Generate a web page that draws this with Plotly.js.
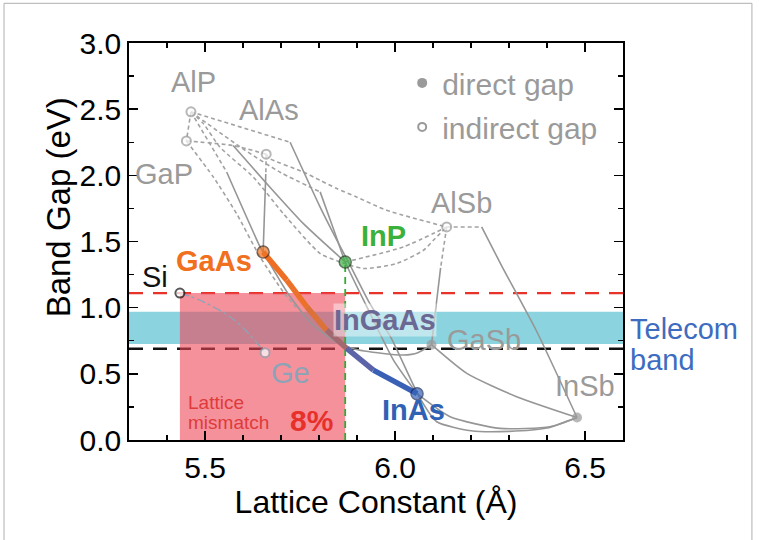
<!DOCTYPE html>
<html><head><meta charset="utf-8">
<script src="https://cdn.plot.ly/plotly-3.0.1.min.js"></script>
<style>html,body{margin:0;padding:0;background:#fff}</style>
</head><body><div id="chart" style="width:759px;height:540px"></div>
<script>
// ---------- data ----------
const compounds = ['AlP','GaP','AlAs','AlSb','GaAs','InP','Si','Ge','GaSb','InAs','InSb'];
const latticeA  = [5.463, 5.451, 5.661, 6.136, 5.653, 5.869, 5.434, 5.658, 6.096, 6.058, 6.479];
const gapEV     = [2.48, 2.26, 2.16, 1.61, 1.42, 1.345, 1.11, 0.66, 0.72, 0.35, 0.17];
const gapType   = ['indirect','indirect','indirect','indirect','direct','direct','indirect','indirect','direct','direct','direct'];

// reference levels
const siGapLine = 1.11;
const blackLine = 0.69;
const telecomBand = [0.725, 0.97];

// indirect-gap (dashed) alloy branches
const dAlPGaP_x = [5.463, 5.451],            dAlPGaP_y = [2.48, 2.26];
const dAlPa_x = [5.463, 5.724],              dAlPa_y = [2.48, 2.25];
const dAlPb_x = [5.463, 5.60, 5.70, 5.803],  dAlPb_y = [2.48, 2.20, 2.02, 1.875];
const dAlPc_x = [5.463, 5.557],              dAlPc_y = [2.48, 2.025];
const dAlPAlSb_x = [5.463, 5.496, 5.539, 5.627, 5.706, 5.803, 5.855, 5.917, 6.004, 6.075, 6.101, 6.136];
const dAlPAlSb_y = [2.48, 2.39, 2.214, 1.987, 1.711, 1.409, 1.346, 1.296, 1.333, 1.434, 1.509, 1.61];
const dGaPAlAs_x = [5.451, 5.574, 5.661],    dGaPAlAs_y = [2.26, 2.225, 2.16];
const dGaPGaAs_x = [5.451, 5.522, 5.583, 5.645, 5.706, 5.74];
const dGaPGaAs_y = [2.26, 1.987, 1.711, 1.383, 1.119, 1.0];
const dAlAsAlSb_x = [5.661, 5.671, 5.759, 5.803, 5.847, 5.899, 5.978, 6.136];
const dAlAsAlSb_y = [2.16, 2.126, 2.025, 1.962, 1.90, 1.836, 1.736, 1.61];
const dAlAsGaAs_x = [5.661, 5.660],          dAlAsGaAs_y = [2.16, 2.01];
const dInPAlSb_x = [5.869, 6.022, 6.136],    dInPAlSb_y = [1.345, 1.459, 1.61];
const dAlSbInSb_x = [6.136, 6.228],          dAlSbInSb_y = [1.61, 1.61];
const dAlSbGaSb_x = [6.136, 6.12],           dAlSbGaSb_y = [1.61, 1.30];

// direct-gap (solid) alloy branches
const sA_x = [5.724, 5.803, 5.847, 5.882, 5.934, 5.99, 6.066, 6.11, 6.2, 6.3, 6.4, 6.479];
const sA_y = [2.25, 1.76, 1.51, 1.32, 1.03, 0.77, 0.315, 0.138, 0.07, 0.065, 0.09, 0.17];
const sB_x = [5.803, 5.84, 5.869, 5.926, 5.996, 6.058];
const sB_y = [1.875, 1.58, 1.345, 1.006, 0.604, 0.35];
const sGaPInP_x = [5.574, 5.671, 5.759, 5.869], sGaPInP_y = [2.225, 1.91, 1.635, 1.345];
const sC_x = [5.557, 5.645, 5.653],          sC_y = [2.025, 1.459, 1.42];
const sAlAsGaAs_x = [5.660, 5.653],          sAlAsGaAs_y = [2.01, 1.42];
const sGaAsGaSb_x = [5.653, 5.72, 5.78, 5.838, 5.89, 5.969, 6.022, 6.06, 6.096];
const sGaAsGaSb_y = [1.42, 1.10, 0.88, 0.755, 0.69, 0.654, 0.642, 0.66, 0.72];
const sGaSbInSb_x = [6.096, 6.189, 6.32, 6.479], sGaSbInSb_y = [0.72, 0.503, 0.327, 0.17];
const sInAsInSb_x = [6.058, 6.145, 6.276, 6.408, 6.479], sInAsInSb_y = [0.35, 0.176, 0.088, 0.10, 0.17];
const sAlSbInSb_x = [6.228, 6.28, 6.373, 6.479], sAlSbInSb_y = [1.61, 1.32, 0.82, 0.17];
const sAlSbGaSb_x = [6.12, 6.11, 6.096],     sAlSbGaSb_y = [1.30, 1.06, 0.72];

// Si-Ge
const siGe_x = [5.434, 5.496, 5.583, 5.658], siGe_y = [1.11, 1.044, 0.893, 0.66];

// InGaAs (GaAs -> InAs)
const inGaAs_x = [5.653, 5.715, 5.768, 5.82, 5.873, 5.943, 6.058];
const inGaAs_y = [1.42, 1.208, 1.006, 0.83, 0.692, 0.528, 0.35];

// ---------- styles ----------
const FONT = 'Liberation Sans, Arial, sans-serif';
const gray = '#9a9a9a';
const traces = [];

function branch(x, y, dashed) {
  traces.push({x: x, y: y, mode: 'lines', showlegend: false, hoverinfo: 'skip',
    line: {color: dashed ? '#a2a2a2' : '#969696', width: 1.6, dash: dashed ? '4px,3px' : 'solid',
           shape: 'spline', smoothing: 0.6}});
}
[[dAlPGaP_x,dAlPGaP_y],[dAlPa_x,dAlPa_y],[dAlPb_x,dAlPb_y],[dAlPc_x,dAlPc_y],[dAlPAlSb_x,dAlPAlSb_y],
 [dGaPAlAs_x,dGaPAlAs_y],[dGaPGaAs_x,dGaPGaAs_y],[dAlAsAlSb_x,dAlAsAlSb_y],[dAlAsGaAs_x,dAlAsGaAs_y],
 [dInPAlSb_x,dInPAlSb_y],[dAlSbInSb_x,dAlSbInSb_y],[dAlSbGaSb_x,dAlSbGaSb_y]].forEach(p => branch(p[0], p[1], true));
[[sA_x,sA_y],[sB_x,sB_y],[sGaPInP_x,sGaPInP_y],[sC_x,sC_y],[sAlAsGaAs_x,sAlAsGaAs_y],[sGaAsGaSb_x,sGaAsGaSb_y],
 [sGaSbInSb_x,sGaSbInSb_y],[sInAsInSb_x,sInAsInSb_y],[sAlSbInSb_x,sAlSbInSb_y],[sAlSbGaSb_x,sAlSbGaSb_y]].forEach(p => branch(p[0], p[1], false));

traces.push({x: siGe_x, y: siGe_y, mode: 'lines', showlegend: false, hoverinfo: 'skip',
  line: {color: '#8ea3b5', width: 1.4, dash: 'dashdot', shape: 'spline'}});

// thick InGaAs line with colour gradient (one segment per pair of points)
const segColors = ['#ee6f24', '#ec7129', '#dc7238', '#a26a70', '#5d63a8', '#3a60b6'];
for (let i = 0; i < inGaAs_x.length - 1; i++) {
  traces.push({x: inGaAs_x.slice(i, i + 2), y: inGaAs_y.slice(i, i + 2), mode: 'lines', showlegend: false,
    hoverinfo: 'skip', line: {color: segColors[i], width: 5.5}});
}

// compound markers
const markerStyle = {
  AlP: {fill: '#fff', line: gray, size: 9, lw: 2}, GaP: {fill: '#fff', line: gray, size: 9, lw: 2},
  AlAs: {fill: '#fff', line: gray, size: 9, lw: 2}, AlSb: {fill: '#fff', line: gray, size: 9, lw: 2},
  GaAs: {fill: '#ef7424', line: '#4a2a18', size: 12, lw: 1.5}, InP: {fill: '#3cb043', line: '#1d3d1d', size: 12, lw: 1.5},
  Si: {fill: '#fff', line: '#111', size: 9, lw: 2}, Ge: {fill: '#fff', line: '#8ea3b5', size: 9, lw: 2},
  GaSb: {fill: '#9a9a9a', line: '#9a9a9a', size: 10, lw: 0}, InAs: {fill: '#3563b8', line: '#1a2a60', size: 12, lw: 1.5},
  InSb: {fill: '#9a9a9a', line: '#9a9a9a', size: 10, lw: 0}
};
traces.push({x: latticeA, y: gapEV, text: compounds, mode: 'markers', showlegend: false, hoverinfo: 'text',
  marker: {symbol: 'circle', size: compounds.map(c => markerStyle[c].size),
    color: compounds.map(c => markerStyle[c].fill),
    line: {color: compounds.map(c => markerStyle[c].line), width: compounds.map(c => markerStyle[c].lw)}}});

// legend entries
traces.push({x: [null], y: [null], mode: 'markers', name: 'direct gap', legendgroup: 'a',
  marker: {color: gray, size: 10}});
traces.push({x: [null], y: [null], mode: 'markers', name: 'indirect gap', legendgroup: 'b',
  marker: {color: '#fff', size: 8, line: {color: gray, width: 2}}});

// labels
const labelStyle = {
  AlP: {dx: 3, dy: 30, color: gray}, GaP: {dx: -22, dy: -33, color: gray},
  AlAs: {dx: 3, dy: 44, color: gray}, AlSb: {dx: 15, dy: 24, color: gray},
  GaAs: {dx: -49, dy: -9, color: '#f07020', bold: true}, InP: {dx: 38, dy: 26, color: '#3bb03b', bold: true},
  Si: {dx: -25, dy: 16, color: '#111'}, Ge: {dx: 25, dy: -20, color: '#8ea3b5'},
  GaSb: {dx: 53, dy: 5, color: gray}, InAs: {dx: -4, dy: -16, color: '#2f62b5', bold: true},
  InSb: {dx: 8, dy: 32, color: gray}
};
const annotations = compounds.map((c, i) => ({
  x: latticeA[i], y: gapEV[i], xref: 'x', yref: 'y', showarrow: false,
  xshift: labelStyle[c].dx, yshift: labelStyle[c].dy,
  text: labelStyle[c].bold ? '<b>' + c + '</b>' : c,
  font: {family: FONT, size: 29, color: labelStyle[c].color}
}));
const iInP = compounds.indexOf('InP'), iSi = compounds.indexOf('Si');
annotations.push({x: latticeA[iInP], y: blackLine, xref: 'x', yref: 'y', showarrow: false, xshift: 40, yshift: 29,
  text: '<b>InGaAs</b>', font: {family: FONT, size: 29, color: '#6b6894'}, bgcolor: 'rgba(255,255,255,0.45)', borderpad: 0});
annotations.push({x: latticeA[iSi], y: 0.28, xref: 'x', yref: 'y', xanchor: 'left', showarrow: false, xshift: 6,
  text: 'Lattice', font: {family: FONT, size: 19, color: '#e03a3a'}});
annotations.push({x: latticeA[iSi], y: 0.135, xref: 'x', yref: 'y', xanchor: 'left', showarrow: false, xshift: 6,
  text: 'mismatch', font: {family: FONT, size: 19, color: '#e03a3a'}});
annotations.push({x: latticeA[iInP], y: 0.15, xref: 'x', yref: 'y', xanchor: 'right', showarrow: false, xshift: -10,
  text: '<b>8%</b>', font: {family: FONT, size: 30, color: '#e8302a'}});
annotations.push({x: 1.01, xref: 'paper', y: (telecomBand[0] + telecomBand[1]) / 2, yref: 'y', xanchor: 'left',
  showarrow: false, yshift: -1, text: 'Telecom', font: {family: FONT, size: 29, color: '#3d6cc0'}});
annotations.push({x: 1.01, xref: 'paper', y: (telecomBand[0] + telecomBand[1]) / 2, yref: 'y', xanchor: 'left',
  showarrow: false, yshift: -32, text: 'band', font: {family: FONT, size: 29, color: '#3d6cc0'}});
annotations.push({x: -0.184, xref: 'paper', y: 0.585, yref: 'paper', textangle: -90, showarrow: false,
  text: 'Band Gap (eV)', font: {family: FONT, size: 33, color: '#000'}});

const shapes = [
  {type: 'rect', layer: 'below', xref: 'paper', x0: 0, x1: 1, yref: 'y', y0: telecomBand[0], y1: telecomBand[1],
   fillcolor: 'rgba(110,200,215,0.8)', line: {width: 0}},
  {type: 'rect', layer: 'below', xref: 'x', x0: latticeA[iSi], x1: latticeA[iInP], yref: 'y', y0: 0, y1: siGapLine,
   fillcolor: 'rgba(236,72,88,0.6)', line: {width: 0}},
  {type: 'line', layer: 'below', xref: 'paper', x0: 0, x1: 1, yref: 'y', y0: siGapLine, y1: siGapLine,
   line: {color: '#e8332a', width: 2.2, dash: '14px,10px'}},
  {type: 'line', layer: 'below', xref: 'paper', x0: 0, x1: 1, yref: 'y', y0: blackLine, y1: blackLine,
   line: {color: '#111', width: 2.6, dash: '14px,10px'}},
  {type: 'line', layer: 'below', xref: 'x', x0: latticeA[iInP], x1: latticeA[iInP], yref: 'y', y0: 0, y1: gapEV[iInP],
   line: {color: '#33aa33', width: 1.8, dash: '7px,5px'}},
  {type: 'rect', xref: 'paper', x0: -0.253, x1: 1.261, yref: 'paper', y0: -0.4, y1: 1.1,
   line: {color: '#b0b0b0', width: 1}}
];

const axisCommon = {showline: true, linecolor: '#000', linewidth: 1.8, mirror: 'ticks', ticks: 'inside',
  ticklen: 9, tickwidth: 1.5, tickcolor: '#000', showgrid: false, zeroline: false, tickformat: '.1f',
  tickfont: {family: FONT, size: 30, color: '#000'}};

const layout = {
  width: 759, height: 540, margin: {l: 129, r: 136, t: 43, b: 100},
  paper_bgcolor: '#fff', plot_bgcolor: '#fff', font: {family: FONT},
  xaxis: Object.assign({}, axisCommon, {range: [5.3, 6.6], tick0: 5.5, dtick: 0.5,
    minor: {dtick: 0.1, ticks: 'inside', ticklen: 5, tickwidth: 1.2, tickcolor: '#000'},
    title: {text: 'Lattice Constant (Å)', font: {family: FONT, size: 32, color: '#000'}, standoff: 8}}),
  yaxis: Object.assign({}, axisCommon, {range: [0, 3.0], tick0: 0, dtick: 0.5,
    minor: {dtick: 0.25, ticks: 'inside', ticklen: 5, tickwidth: 1.2, tickcolor: '#000'}}),
  legend: {x: 0.553, y: 0.965, xanchor: 'left', yanchor: 'top', bgcolor: 'rgba(0,0,0,0)',
    font: {family: FONT, size: 30, color: gray}, itemwidth: 30, tracegroupgap: 2},
  shapes: shapes, annotations: annotations
};

Plotly.newPlot('chart', traces, layout, {staticPlot: true, displayModeBar: false});
</script></body></html>
